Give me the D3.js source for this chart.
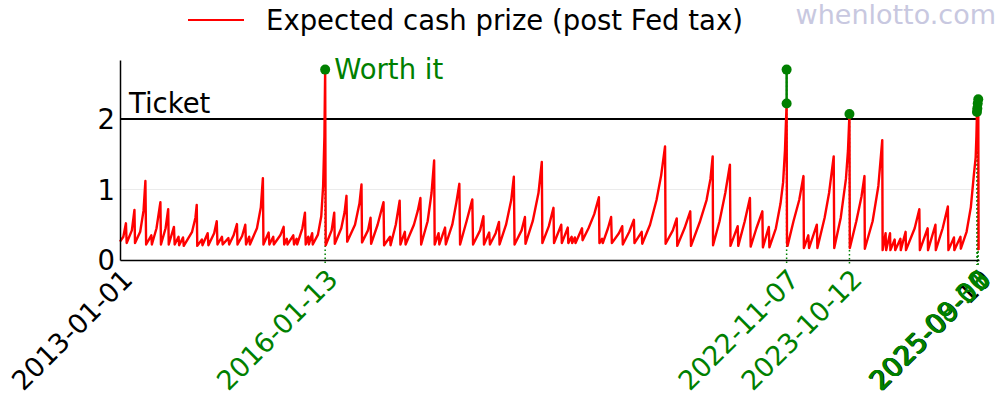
<!DOCTYPE html>
<html><head><meta charset="utf-8">
<script src="https://cdn.jsdelivr.net/npm/d3@7"></script>
<style>
body{margin:0;background:#fff}
svg{display:block}
text{font-family:"DejaVu Sans",sans-serif}
</style>
</head><body>
<svg id="chart" width="1000" height="400"></svg>
<script>
// ---------- data ----------
const drawDates = [
"2013-01-01","2013-01-19","2013-02-02","2013-02-06","2013-03-06","2013-03-20","2013-03-23","2013-04-20","2013-05-08","2013-05-18",
"2013-05-22","2013-06-19","2013-06-22","2013-07-17","2013-08-07","2013-08-10","2013-09-04","2013-09-18","2013-09-21","2013-10-19",
"2013-10-23","2013-11-13","2013-11-16","2013-12-07","2013-12-11","2014-01-25","2014-02-12","2014-02-19","2014-02-22","2014-03-19",
"2014-03-22","2014-04-19","2014-04-23","2014-05-24","2014-06-07","2014-06-11","2014-07-05","2014-07-09","2014-08-09","2014-08-13",
"2014-09-06","2014-09-24","2014-09-27","2014-10-22","2014-11-08","2014-11-12","2014-11-29","2014-12-03","2015-01-10","2015-01-31",
"2015-02-11","2015-02-14","2015-03-14","2015-03-18","2015-04-08","2015-04-11","2015-05-16","2015-06-03","2015-06-06","2015-06-20",
"2015-06-24","2015-07-25","2015-07-29","2015-08-12","2015-08-15","2015-09-12","2015-09-26","2015-09-30","2015-10-14","2015-10-17",
"2015-11-04","2015-11-07","2015-12-05","2015-12-23","2016-01-02","2016-01-09","2016-01-13","2016-01-16","2016-02-17","2016-03-02",
"2016-03-05","2016-04-09","2016-04-27","2016-05-07","2016-05-11","2016-06-22","2016-07-16","2016-07-27","2016-07-30","2016-08-31",
"2016-09-14","2016-09-17","2016-10-22","2016-11-23","2016-11-26","2016-12-28","2016-12-31","2017-01-28","2017-02-18","2017-02-22",
"2017-03-18","2017-03-22","2017-05-06","2017-05-27","2017-06-10","2017-06-14","2017-07-19","2017-08-09","2017-08-23","2017-08-26",
"2017-09-16","2017-09-20","2017-10-21","2017-10-25","2017-11-29","2017-12-20","2018-01-06","2018-01-10","2018-02-14","2018-03-17",
"2018-03-21","2018-04-28","2018-05-16","2018-05-19","2018-06-16","2018-06-20","2018-07-21","2018-08-08","2018-08-11","2018-09-15",
"2018-10-13","2018-10-27","2018-10-31","2018-12-08","2018-12-26","2018-12-29","2019-02-06","2019-03-09","2019-03-27","2019-03-30",
"2019-05-04","2019-05-29","2019-06-01","2019-07-10","2019-07-13","2019-08-14","2019-08-17","2019-09-04","2019-09-07","2019-09-21",
"2019-09-25","2019-10-30","2019-11-02","2019-12-04","2020-01-04","2020-01-29","2020-02-01","2020-02-15","2020-02-19","2020-03-18",
"2020-04-04","2020-04-08","2020-05-16","2020-06-03","2020-06-06","2020-07-11","2020-08-05","2020-08-08","2020-09-16","2020-09-19",
"2020-10-31","2020-12-05","2020-12-30","2021-01-20","2021-01-23","2021-03-03","2021-03-24","2021-03-27","2021-05-05","2021-06-05",
"2021-06-09","2021-07-28","2021-09-01","2021-09-22","2021-10-04","2021-10-06","2021-11-10","2021-12-11","2022-01-05","2022-01-08",
"2022-02-16","2022-02-19","2022-03-26","2022-04-23","2022-04-27","2022-05-28","2022-06-29","2022-07-02","2022-08-03","2022-08-06",
"2022-09-10","2022-10-05","2022-10-19","2022-10-29","2022-11-02","2022-11-07","2022-11-09","2022-11-12","2022-12-14","2023-01-14",
"2023-02-06","2023-02-08","2023-03-04","2023-03-08","2023-04-19","2023-04-22","2023-05-31","2023-06-24","2023-07-19","2023-07-22",
"2023-08-26","2023-09-23","2023-10-04","2023-10-12","2023-10-14","2023-11-18","2023-12-16","2024-01-01","2024-01-03","2024-02-14",
"2024-03-16","2024-04-06","2024-04-08","2024-04-24","2024-04-27","2024-05-18","2024-05-20","2024-06-12","2024-06-15","2024-07-13",
"2024-07-15","2024-08-10","2024-08-12","2024-09-28","2024-10-23","2024-10-26","2024-12-07","2024-12-09","2025-01-18","2025-01-20",
"2025-02-26","2025-03-26","2025-03-29","2025-04-28","2025-04-30","2025-06-02","2025-06-04","2025-07-05","2025-07-28","2025-08-13",
"2025-08-23","2025-08-27","2025-08-30","2025-09-01","2025-09-03","2025-09-06","2025-09-08","2025-09-10"
];
const prizeValues = [
0.26,0.33,0.52,0.24,0.42,0.71,0.24,0.40,0.70,1.12,
0.22,0.35,0.22,0.45,0.82,0.22,0.45,0.72,0.22,0.47,
0.22,0.33,0.21,0.32,0.20,0.40,0.60,0.78,0.20,0.29,
0.21,0.38,0.21,0.38,0.55,0.22,0.33,0.22,0.31,0.22,
0.35,0.51,0.22,0.34,0.50,0.22,0.33,0.22,0.45,0.75,
1.16,0.22,0.39,0.22,0.33,0.22,0.35,0.47,0.22,0.30,
0.22,0.35,0.22,0.30,0.22,0.45,0.67,0.22,0.33,0.22,
0.38,0.22,0.36,0.62,1.05,1.75,2.70,0.21,0.42,0.67,
0.23,0.45,0.68,0.91,0.26,0.50,0.80,1.07,0.25,0.42,
0.60,0.23,0.50,0.82,0.21,0.33,0.21,0.50,0.84,0.22,
0.40,0.22,0.50,0.70,0.88,0.22,0.55,0.95,1.41,0.22,
0.38,0.22,0.46,0.22,0.50,0.80,1.08,0.22,0.55,0.86,
0.22,0.42,0.62,0.22,0.39,0.22,0.38,0.54,0.22,0.50,
0.85,1.18,0.22,0.42,0.61,0.23,0.55,0.95,1.39,0.24,
0.48,0.74,0.24,0.50,0.24,0.46,0.24,0.33,0.24,0.32,
0.24,0.45,0.28,0.45,0.65,0.89,0.24,0.30,0.24,0.45,
0.61,0.24,0.38,0.48,0.22,0.40,0.57,0.24,0.40,0.23,
0.50,0.85,1.20,1.61,0.23,0.42,0.59,0.20,0.45,0.69,
0.20,0.55,0.85,1.15,1.47,0.21,0.55,0.95,1.35,0.20,
0.48,0.20,0.55,0.88,0.19,0.45,0.69,0.18,0.47,0.18,
0.45,0.80,1.10,1.55,1.85,2.22,0.24,0.20,0.55,0.85,
1.19,0.17,0.35,0.17,0.50,0.17,0.60,0.95,1.47,0.17,
0.60,1.15,1.55,2.07,0.17,0.55,0.90,1.19,0.16,0.55,
1.05,1.70,0.14,0.38,0.14,0.38,0.14,0.29,0.14,0.30,
0.14,0.40,0.14,0.45,0.72,0.14,0.45,0.14,0.50,0.14,
0.45,0.76,0.14,0.32,0.14,0.33,0.16,0.40,0.75,1.20,
1.45,1.75,2.08,2.15,2.22,2.28,0.15,0.14
];
const worthDates  = ["2016-01-13","2022-11-07","2022-11-07","2023-10-12","2025-08-30","2025-09-01","2025-09-03","2025-09-06"];
const worthValues = [2.70, 2.22, 2.70, 2.07, 2.10, 2.15, 2.22, 2.28];
const axisStartLabel = "2013-01-01";
const axisEndLabel = "2025-09-10";
const yTickValues = [0, 1, 2];
const ticketPrice = 2;
const seriesName = "Expected cash prize (post Fed tax)";

// ---------- drawing ----------
const parse = d3.utcParse("%Y-%m-%d");
const svg = d3.select("#chart");
const L = 120, R = 979, T = 60, B = 260;
const FS = 27.5;
const GREEN = "#008000";

const x = d3.scaleUtc().domain([parse(axisStartLabel), parse(axisEndLabel)]).range([L, R]);
const y = d3.scaleLinear().domain([0, 2.836]).range([B, T]);

const series = drawDates.map((d, i) => ({date: parse(d), v: prizeValues[i]}));
const worth = worthDates.map((d, i) => ({date: parse(d), v: worthValues[i], label: d}));

// grid line at 1
svg.append("g").selectAll("line").data(yTickValues.filter(v => v !== 0 && v !== ticketPrice)).join("line")
  .attr("x1", L).attr("x2", R).attr("y1", d => y(d)).attr("y2", d => y(d))
  .attr("stroke", "#ebebeb").attr("stroke-width", 1);

// ticket line
svg.append("line").attr("x1", L).attr("x2", R).attr("y1", y(ticketPrice)).attr("y2", y(ticketPrice))
  .attr("stroke", "#000").attr("stroke-width", 2);
svg.append("text").attr("x", 129).attr("y", y(ticketPrice) - 6).attr("font-size", FS).attr("fill", "#000").text("Ticket");

// dotted green guides
const uniqWorth = Array.from(d3.group(worth, d => d.label), ([k, arr]) => ({label: k, date: arr[0].date, v: d3.max(arr, a => a.v)}));
svg.append("g").selectAll("line").data(uniqWorth).join("line")
  .attr("x1", d => x(d.date)).attr("x2", d => x(d.date))
  .attr("y1", d => y(d.v)).attr("y2", B + 5)
  .attr("stroke", GREEN).attr("stroke-width", 1.5).attr("stroke-dasharray", "1.5,2.5");

// red series
svg.append("path").datum(series)
  .attr("d", d3.line().x(d => x(d.date)).y(d => y(d.v)))
  .attr("fill", "none").attr("stroke", "#ff0000").attr("stroke-width", 2.4).attr("stroke-linejoin", "round");

// green stems between consecutive worth-it points in a cluster
const segs = [];
for (let i = 1; i < worth.length; i++) {
  if ((worth[i].date - worth[i-1].date) / 864e5 <= 7) segs.push([worth[i-1], worth[i]]);
}
svg.append("g").selectAll("line").data(segs).join("line")
  .attr("x1", d => x(d[0].date)).attr("x2", d => x(d[1].date))
  .attr("y1", d => y(d[0].v)).attr("y2", d => y(d[1].v))
  .attr("stroke", GREEN).attr("stroke-width", 2.5);
svg.append("g").selectAll("circle").data(worth).join("circle")
  .attr("cx", d => x(d.date)).attr("cy", d => y(d.v)).attr("r", 5).attr("fill", GREEN);

svg.append("text").attr("x", x(worth[0].date) + 9).attr("y", y(worth[0].v)).attr("dy", "0.36em")
  .attr("font-size", FS).attr("fill", GREEN).text("Worth it");

// axes
const yAxis = svg.append("g").attr("transform", `translate(${L},0)`)
  .call(d3.axisLeft(y).tickValues(yTickValues).tickSize(0).tickPadding(5).tickFormat(d3.format("d")));
yAxis.select(".domain").attr("stroke", "#000").attr("stroke-width", 1.5);
yAxis.selectAll("text").attr("font-size", FS).attr("fill", "#000").attr("font-family", "DejaVu Sans").attr("dy", "0.36em");

const xLabels = [
  {label: axisStartLabel, color: "#000"},
  {label: axisEndLabel, color: "#000"},
  ...uniqWorth.map(d => ({label: d.label, color: GREEN}))
];
const xAxis = svg.append("g").attr("transform", `translate(0,${B})`)
  .call(d3.axisBottom(x).tickValues(xLabels.map(d => parse(d.label))).tickSize(0).tickFormat(() => ""));
xAxis.select(".domain").attr("stroke", "#000").attr("stroke-width", 1.5);

svg.append("g").selectAll("text").data(xLabels).join("text")
  .attr("transform", d => `translate(${x(parse(d.label))},${B + 7}) rotate(-45)`)
  .attr("text-anchor", "end").attr("dy", "0.74em")
  .attr("font-size", 27).attr("fill", d => d.color).text(d => d.label);

// legend
svg.append("line").attr("x1", 188).attr("x2", 244).attr("y1", 20).attr("y2", 20)
  .attr("stroke", "#ff0000").attr("stroke-width", 2);
svg.append("text").attr("x", 266).attr("y", 20).attr("dy", "0.36em").attr("font-size", FS).attr("fill", "#000").text(seriesName);

// watermark
svg.append("text").attr("x", 996).attr("y", 24).attr("text-anchor", "end")
  .attr("font-size", 27).attr("fill", "#c8c8e0").text("whenlotto.com");
</script>
</body></html>
